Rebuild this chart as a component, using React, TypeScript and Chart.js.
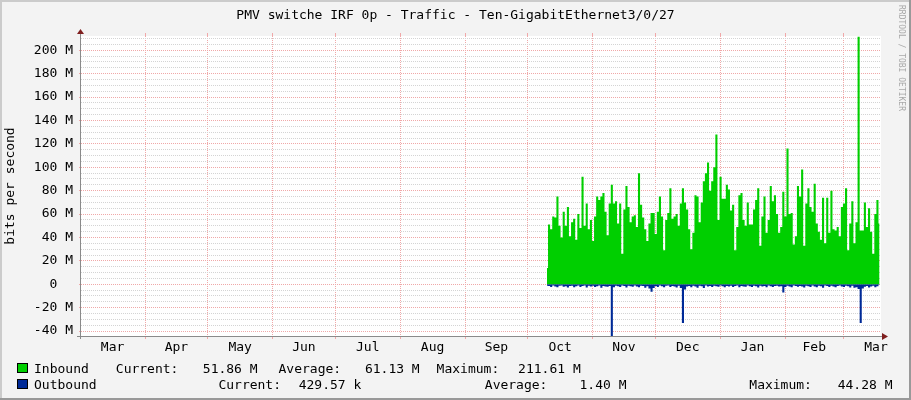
import React, { useEffect, useRef } from 'react';
import { Chart, registerables } from 'chart.js';

Chart.register(...registerables);

// ---------- texts ----------
const TITLE = 'PMV switche IRF 0p - Traffic - Ten-GigabitEthernet3/0/27';
const Y_TITLE = 'bits per second';
const WATERMARK = 'RRDTOOL / TOBI OETIKER';

// ---------- time axis (days since 1 Mar of the first year) ----------
const monthNames = ['Mar', 'Apr', 'May', 'Jun', 'Jul', 'Aug', 'Sep', 'Oct', 'Nov', 'Dec', 'Jan', 'Feb', 'Mar'];
const monthDays = [31, 30, 31, 30, 31, 31, 30, 31, 30, 31, 31, 28, 31];
const viewStartDay = 0.4;
const viewEndDay = 382.9;
const dataStartDay = 223.2; // one sample per day from here

// ---------- series (Mbit/s) ----------
const inbound = [
  14, 51, 47, 58, 57, 75, 50, 40, 62, 50,
  66, 41, 53, 56, 38, 60, 48, 92, 50, 69,
  47, 55, 37, 58, 75, 72, 75, 78, 62, 42,
  69, 85, 69, 71, 52, 69, 26, 64, 84, 66,
  53, 58, 59, 49, 95, 68, 57, 47, 37, 52,
  61, 61, 43, 62, 75, 58, 29, 55, 61, 82,
  56, 58, 60, 50, 69, 82, 70, 64, 47, 30,
  44, 76, 75, 53, 70, 88, 95, 104, 80, 88,
  100, 128, 55, 92, 73, 73, 85, 81, 63, 68,
  29, 49, 76, 78, 55, 50, 70, 51, 51, 64,
  72, 82, 33, 58, 75, 44, 55, 84, 71, 76,
  60, 44, 49, 79, 58, 116, 60, 61, 34, 41,
  84, 75, 98, 33, 69, 82, 66, 62, 86, 52,
  45, 38, 74, 35, 74, 44, 80, 47, 46, 49,
  41, 66, 69, 82, 29, 52, 71, 35, 53, 211.61,
  46, 46, 70, 49, 65, 45, 26, 60, 72, 51.86,
];
const outbound = [
  1.2, 1.5, 2.4, 1.1, 1.8, 2.6, 1.3, 1.0, 2.2, 1.6,
  2.8, 1.4, 1.2, 2.5, 1.7, 1.1, 2.3, 1.5, 1.0, 2.7,
  1.3, 1.9, 1.2, 2.4, 1.6, 1.1, 2.9, 1.4, 1.8, 2.2,
  1.5, 44.28, 2.6, 1.2, 1.7, 2.4, 1.1, 1.5, 2.8, 1.3,
  1.6, 2.2, 1.0, 1.8, 2.5, 1.2, 1.4, 2.9, 1.6, 3.5,
  6.3, 3.2, 1.4, 2.3, 1.1, 1.7, 2.6, 1.3, 1.0, 2.4,
  1.5, 1.9, 2.7, 1.2, 3.1, 33, 4.5, 2.0, 1.4, 2.6,
  1.2, 1.8, 2.9, 1.3, 1.6, 3.2, 1.1, 2.0, 1.5, 2.4,
  1.3, 1.7, 2.2, 1.0, 1.6, 2.5, 1.4, 1.9, 1.2, 2.3,
  1.5, 1.1, 2.6, 1.4, 1.8, 2.2, 1.0, 1.7, 2.4, 1.3,
  1.6, 2.8, 1.2, 1.9, 1.4, 2.5, 1.1, 1.7, 2.3, 1.5,
  1.2, 2.0, 1.6, 7.0, 2.4, 1.3, 1.8, 2.6, 1.1, 1.5,
  2.2, 1.4, 1.9, 2.7, 1.2, 1.6, 2.3, 1.0, 1.8, 2.5,
  1.3, 1.7, 2.9, 1.1, 1.5, 2.4, 1.2, 1.9, 2.6, 1.4,
  1.0, 1.8, 2.3, 1.3, 1.6, 2.8, 1.2, 3.0, 2.6, 4.0,
  33, 3.5, 2.2, 1.4, 2.7, 1.9, 1.2, 2.5, 1.6, 0.43,
];

// ---------- value axis ----------
const yMin = -44.2;
const yMax = 212.2;
const yLabelTicks = [-40, -20, 0, 20, 40, 60, 80, 100, 120, 140, 160, 180, 200];
const yGridFrom = -40;
const yGridTo = 210;
const yGridStep = 5;

// ---------- legend ----------
const legendInbound = ['Inbound', 'Current:', '51.86 M', 'Average:', '61.13 M', 'Maximum:', '211.61 M'];
const legendOutbound = ['Outbound', 'Current:', '429.57 k', 'Average:', '1.40 M', 'Maximum:', '44.28 M'];

// ---------- styles ----------
const FONT = '"DejaVu Sans Mono", monospace';
const MAJOR = '#F0A8A8';
const MINOR = '#D4D4D4';
const IN_COLOR = '#00CF00';
const OUT_COLOR = '#002A97';
const BACK = '#F3F3F3';
const AXIS = '#8A8A8A';
const ARROW = '#7F1F1F';
const legendXIn = [34, 115.8, 202.8, 278.5, 364.9, 436.6, 518.1];
const legendXOut = [34, 218.4, 298.7, 484.8, 579.5, 749.3, 837.7];

const monthStartDays: number[] = [];
const monthMidDays: number[] = [];
{
  let d = 0;
  monthDays.forEach((len) => {
    monthStartDays.push(d);
    monthMidDays.push(d + len / 2);
    d += len;
  });
}
const gridMonthDays = monthStartDays.filter((d) => d > viewStartDay && d < viewEndDay);
const yGridValues: number[] = [];
for (let v = yGridFrom; v <= yGridTo; v += yGridStep) yGridValues.push(v);

const fmtY = (v: number) => (v === 0 ? '0  ' : `${v} M`);

const align = (p: number) => Math.round(p - 0.5) + 0.5;

const decor = {
  id: 'decor',
  beforeDraw(chart: any) {
    const { ctx, chartArea: a, width, height } = chart;
    ctx.save();
    ctx.fillStyle = BACK;
    ctx.fillRect(0, 0, width, height);
    ctx.fillStyle = '#CBCBCB';
    ctx.fillRect(0, 0, width, 2);
    ctx.fillRect(0, 0, 2, height);
    ctx.fillStyle = '#999999';
    ctx.fillRect(0, height - 2, width, 2);
    ctx.fillRect(width - 2, 0, 2, height);
    ctx.fillStyle = '#FFFFFF';
    ctx.fillRect(a.left, a.top, a.right - a.left, a.bottom - a.top);
    ctx.restore();
  },
  afterDraw(chart: any) {
    const { ctx, chartArea: a } = chart;
    const xs = chart.scales.x;
    ctx.save();
    // small grid ticks above the plot
    ctx.strokeStyle = MAJOR;
    ctx.lineWidth = 1;
    gridMonthDays.forEach((d) => {
      const px = align(xs.getPixelForValue(d));
      ctx.beginPath();
      ctx.moveTo(px, a.top - 3);
      ctx.lineTo(px, a.top);
      ctx.stroke();
    });
    // axes
    ctx.strokeStyle = AXIS;
    ctx.beginPath();
    ctx.moveTo(a.left - 4, a.bottom + 0.5);
    ctx.lineTo(a.right + 2, a.bottom + 0.5);
    ctx.moveTo(a.left - 0.5, a.bottom + 3);
    ctx.lineTo(a.left - 0.5, a.top - 3);
    ctx.stroke();
    ctx.fillStyle = ARROW;
    ctx.beginPath();
    ctx.moveTo(a.right + 1, a.bottom - 3);
    ctx.lineTo(a.right + 7, a.bottom + 0.5);
    ctx.lineTo(a.right + 1, a.bottom + 4);
    ctx.closePath();
    ctx.fill();
    ctx.beginPath();
    ctx.moveTo(a.left - 4, a.top - 2);
    ctx.lineTo(a.left - 0.5, a.top - 7);
    ctx.lineTo(a.left + 3, a.top - 2);
    ctx.closePath();
    ctx.fill();

    // title
    ctx.fillStyle = '#000';
    ctx.font = `13px ${FONT}`;
    ctx.textAlign = 'center';
    ctx.textBaseline = 'alphabetic';
    ctx.fillText(TITLE, 455.5, 19);

    // legend
    ctx.textAlign = 'left';
    const rows: [string[], number[], string, number][] = [
      [legendInbound, legendXIn, IN_COLOR, 373],
      [legendOutbound, legendXOut, OUT_COLOR, 389],
    ];
    rows.forEach(([texts, xsPos, color, base]) => {
      ctx.fillStyle = color;
      ctx.fillRect(17, base - 10, 11, 10);
      ctx.strokeStyle = '#000';
      ctx.strokeRect(17.5, base - 9.5, 10, 9);
      ctx.fillStyle = '#000';
      texts.forEach((t, i) => ctx.fillText(t, xsPos[i], base));
    });

    // watermark
    ctx.fillStyle = '#A8A8A8';
    ctx.font = `8px ${FONT}`;
    ctx.translate(899, 5);
    ctx.rotate(Math.PI / 2);
    ctx.textAlign = 'left';
    ctx.textBaseline = 'alphabetic';
    ctx.fillText(WATERMARK, 0, 0);
    ctx.restore();
  },
};

export default function App() {
  const ref = useRef<HTMLCanvasElement>(null);

  useEffect(() => {
    const canvas = ref.current;
    if (!canvas) return;
    Chart.defaults.font.family = FONT;
    Chart.defaults.font.size = 13;
    Chart.defaults.color = '#000';

    const chart = new Chart(canvas, {
      type: 'line',
      data: {
        datasets: [
          {
            label: 'Inbound',
            data: inbound.map((v, i) => ({ x: dataStartDay + i, y: v })),
            xAxisID: 'x',
            yAxisID: 'y',
            backgroundColor: IN_COLOR,
            borderWidth: 0,
            pointRadius: 0,
            fill: 'origin',
            stepped: 'middle',
          },
          {
            label: 'Outbound',
            data: outbound.map((v, i) => ({ x: dataStartDay + i, y: -v })),
            xAxisID: 'x',
            yAxisID: 'y',
            backgroundColor: OUT_COLOR,
            borderWidth: 0,
            pointRadius: 0,
            fill: 'origin',
            stepped: 'middle',
          },
        ],
      },
      options: {
        animation: false,
        responsive: false,
        devicePixelRatio: 1,
        layout: { padding: { left: 0, top: 36, right: 30, bottom: 0 } },
        plugins: {
          legend: { display: false },
          title: { display: false },
          tooltip: { enabled: false },
        },
        scales: {
          x: {
            type: 'linear',
            position: 'bottom',
            weight: 0,
            min: viewStartDay,
            max: viewEndDay,
            bounds: 'data',
            afterBuildTicks: (s: any) => {
              s.ticks = gridMonthDays.map((v) => ({ value: v }));
            },
            afterFit: (s: any) => {
              s.height = 0;
            },
            ticks: { display: false },
            grid: { color: MAJOR, drawTicks: true, tickLength: 3, tickColor: MAJOR, lineWidth: 1 },
            border: { display: false, dash: [1, 1] },
          },
          xl: {
            type: 'linear',
            axis: 'x',
            position: 'bottom',
            weight: 1,
            min: viewStartDay,
            max: viewEndDay,
            bounds: 'data',
            afterBuildTicks: (s: any) => {
              s.ticks = monthMidDays.map((v) => ({ value: v }));
            },
            afterFit: (s: any) => {
              s.height = 64;
            },
            ticks: {
              autoSkip: false,
              maxRotation: 0,
              minRotation: 0,
              padding: 4,
              color: '#000',
              font: { family: FONT, size: 13 },
              callback: (_v: any, i: number) => monthNames[i],
            },
            grid: { display: false, drawTicks: false },
            border: { display: false },
          },
          y: {
            type: 'linear',
            position: 'left',
            min: yMin,
            max: yMax,
            bounds: 'data',
            afterBuildTicks: (s: any) => {
              s.ticks = yGridValues.map((v) => ({ value: v }));
            },
            afterFit: (s: any) => {
              s.width = 81;
            },
            ticks: {
              autoSkip: false,
              padding: 6,
              color: '#000',
              font: { family: FONT, size: 13 },
              callback: (v: any) => (yLabelTicks.includes(Number(v)) ? fmtY(Number(v)) : ''),
            },
            grid: {
              color: (c: any) => (yLabelTicks.includes(c.tick?.value) ? MAJOR : MINOR),
              tickColor: (c: any) => (yLabelTicks.includes(c.tick?.value) ? MAJOR : 'rgba(0,0,0,0)'),
              drawTicks: true,
              tickLength: 2,
              lineWidth: 1,
            },
            border: { display: false, dash: [1, 1] },
            title: {
              display: true,
              text: Y_TITLE,
              color: '#000',
              font: { family: FONT, size: 13 },
              padding: { top: 3, bottom: 0 },
            },
          },
        },
      },
      plugins: [decor],
    } as any);

    return () => chart.destroy();
  }, []);

  return (
    <div style={{ position: 'absolute', left: 0, top: 0, width: 911, height: 400 }}>
      <canvas ref={ref} width={911} height={400} style={{ display: 'block', width: 911, height: 400 }} />
    </div>
  );
}
